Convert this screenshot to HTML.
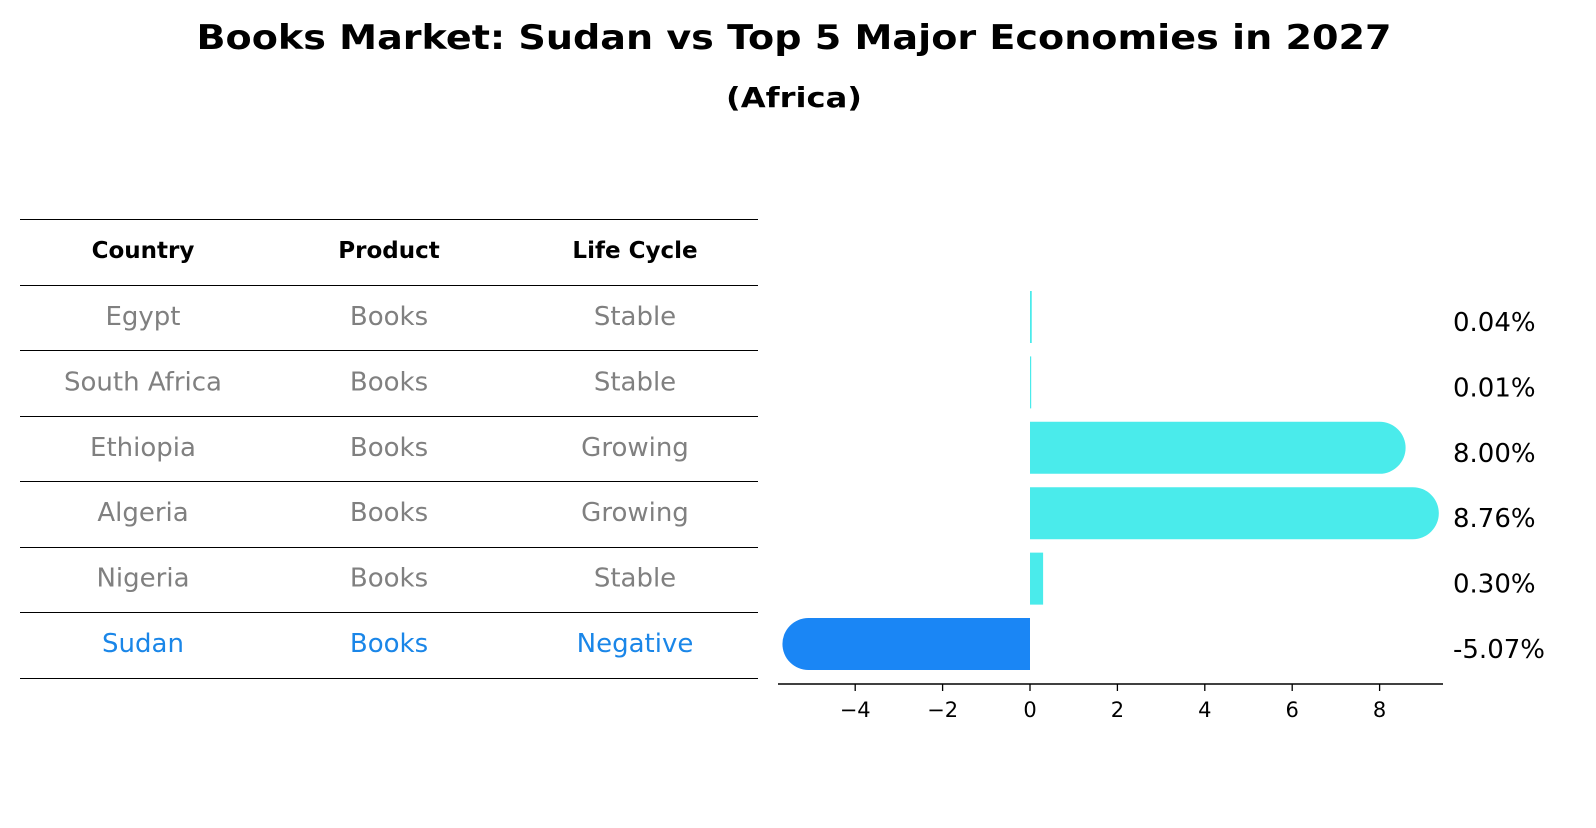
<!DOCTYPE html>
<html><head><meta charset="utf-8"><style>
body{margin:0;background:#fff;font-family:"Liberation Sans","DejaVu Sans",sans-serif;}
svg text{font-family:"DejaVu Sans","Liberation Sans",sans-serif;}
</style></head><body>
<svg id="chart" width="1596" height="823" xmlns="http://www.w3.org/2000/svg">
<text x="794" y="49" text-anchor="middle" font-size="34" font-weight="bold" textLength="1195" lengthAdjust="spacingAndGlyphs">Books Market: Sudan vs Top 5 Major Economies in 2027</text>
<text x="794" y="107" text-anchor="middle" font-size="28" font-weight="bold" textLength="136" lengthAdjust="spacingAndGlyphs">(Africa)</text>
<g id="table"></g>
<g id="bars"></g>
<g id="axis"></g>
</svg>
<script>
const countries=["Egypt","South Africa","Ethiopia","Algeria","Nigeria","Sudan"];
const products=["Books","Books","Books","Books","Books","Books"];
const lifeCycles=["Stable","Stable","Growing","Growing","Stable","Negative"];
const growth=[0.04,0.01,8.00,8.76,0.30,-5.07];
const growthLabels=["0.04%","0.01%","8.00%","8.76%","0.30%","-5.07%"];
const xTicks=[-4,-2,0,2,4,6,8];
const tickLabels=["\u22124","\u22122","0","2","4","6","8"];

const NS="http://www.w3.org/2000/svg";
function mk(tag,attrs,parent,txt){const e=document.createElementNS(NS,tag);for(const k in attrs)e.setAttribute(k,attrs[k]);if(txt!==undefined)e.textContent=txt;parent.appendChild(e);return e;}
const xs=v=>1030+v*43.7;
const rowY=i=>317+i*65.4;
const bh=52;

const tbl=document.getElementById('table');
const lineYs=[219.5,285.5,350.5,416.5,481.5,547.5,612.5,678.5];
lineYs.forEach(y=>{const l=mk('line',{x1:20,x2:758,y1:y,y2:y,stroke:'#000','stroke-width':1},tbl);

});
const colX=[143,389,635];
["Country","Product","Life Cycle"].forEach((h,j)=>{const t=mk('text',{x:colX[j],y:258,'text-anchor':'middle','font-size':23,'font-weight':'bold'},tbl,h);

});
countries.forEach((c,i)=>{
  const col=c==="Sudan"?"#1a86e8":"#808080";
  [c,products[i],lifeCycles[i]].forEach((v,j)=>{
    const t=mk('text',{x:colX[j],y:rowY(i)+8,'text-anchor':'middle','font-size':26,fill:col},tbl,v);
    
    
  });
});

const bars=document.getElementById('bars');
growth.forEach((v,i)=>{
  const y0=rowY(i)-bh/2, x0=xs(0), x1=xs(v);
  const color=v<0?"#1a86f5":"#4aebeb";
  const big=Math.abs(x1-x0)>30;
  let d;
  const r=bh/2;
  if(!big){
    const a=Math.min(x0,x1), w=Math.max(Math.abs(x1-x0),1.2);
    d=`M${a},${y0}h${w}v${bh}h${-w}z`;
  } else if(v>0){
    d=`M${x0},${y0}H${x1}A${r},${r} 0 0 1 ${x1},${y0+bh}H${x0}Z`;
  } else {
    d=`M${x0},${y0}H${x1}A${r},${r} 0 0 0 ${x1},${y0+bh}H${x0}Z`;
  }
  const p=mk('path',{d:d,fill:color},bars);
  
  
  const t=mk('text',{x:1453,y:rowY(i)+14,'font-size':26},bars,growthLabels[i]);
  
  
});

const ax=document.getElementById('axis');
mk('line',{x1:778,x2:1443,y1:684,y2:684,stroke:'#000','stroke-width':1.5},ax);
xTicks.forEach((v,i)=>{
  mk('line',{x1:xs(v),x2:xs(v),y1:684,y2:691,stroke:'#000','stroke-width':1.3},ax);
  const t=mk('text',{x:xs(v),y:717,'text-anchor':'middle','font-size':21},ax,tickLabels[i]);
  
  
});
</script>
</body></html>
